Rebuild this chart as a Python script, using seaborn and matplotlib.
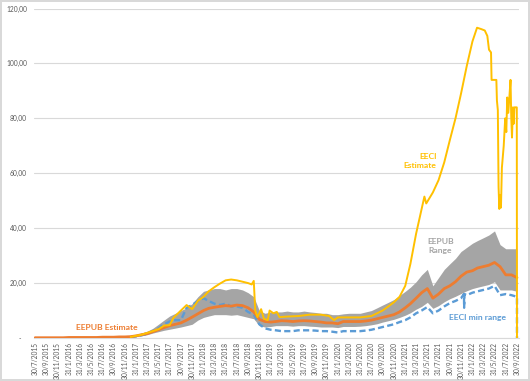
import numpy as np
import pandas as pd
import seaborn as sns
import matplotlib.pyplot as plt
import matplotlib.ticker as mticker

# monthly grid Jul 2015 .. Sep 2022
months = pd.date_range("2015-07-31", "2022-09-30", freq="ME")

# EEPUB estimate (orange), one value per month
eepub_est = [0.1, 0.1, 0.1, 0.1, 0.1, 0.1,
             0.2, 0.2, 0.2, 0.2, 0.2, 0.2,
             0.3, 0.3, 0.3, 0.4, 0.4, 0.5,
             0.8, 1.2, 1.6, 2.3, 3.0, 3.8, 4.5, 5.0, 5.5, 6.5, 7.6, 8.8,
             10.0, 10.8, 11.2, 11.5, 11.8, 11.6, 12.0, 11.8, 11.0, 9.5, 6.8, 6.0,
             5.8, 6.0, 6.3, 6.2, 6.0, 6.2, 6.3, 6.2, 6.0, 5.8, 5.5, 5.5,
             5.2, 6.0, 6.0, 6.0, 6.0, 6.2, 6.5, 7.0, 7.5, 8.0, 8.5, 9.5,
             11.0, 12.5, 14.5, 16.5, 18.0, 14.5, 16.0, 18.0, 19.0, 20.5, 22.5, 24.0,
             24.5, 25.5, 26.0, 26.5, 27.5, 26.0, 23.0, 23.0, 22.0]

# EEPUB range, from Dec 2016 on
range_high = [0.6,
              1.2, 1.8, 2.5, 3.5, 5.0, 6.5, 8.0, 9.0, 10.0, 11.0, 12.5, 15.0,
              17.0, 17.5, 18.0, 18.0, 17.5, 18.0, 18.0, 17.5, 16.5, 15.0, 10.0, 9.0,
              9.5, 9.5, 9.5, 9.8, 9.5, 9.5, 9.8, 9.5, 9.3, 9.0, 9.0, 8.5,
              8.5, 8.8, 9.0, 9.0, 9.0, 9.5, 10.0, 11.0, 12.0, 13.0, 14.0, 15.5,
              17.0, 18.5, 20.5, 23.0, 25.0, 19.0, 22.0, 25.0, 27.0, 29.0, 31.5, 33.0,
              34.5, 35.5, 36.5, 37.5, 39.0, 34.0, 32.5, 32.5, 32.5]
range_low = [0.3,
             0.5, 0.8, 1.2, 1.8, 2.3, 2.8, 3.2, 3.6, 4.0, 4.5, 5.0, 6.5,
             7.5, 8.0, 8.5, 8.5, 8.5, 8.3, 8.5, 8.0, 7.5, 7.0, 4.5, 4.0,
             4.2, 4.5, 4.5, 4.5, 4.3, 4.5, 4.5, 4.3, 4.2, 4.0, 4.0, 4.0,
             3.8, 4.2, 4.2, 4.2, 4.3, 4.5, 4.8, 5.2, 5.8, 6.3, 6.8, 7.5,
             8.3, 9.2, 10.5, 11.5, 13.0, 10.8, 11.8, 13.2, 14.3, 15.2, 16.2, 17.2,
             18.0, 18.5, 19.0, 19.5, 20.5, 17.5, 17.5, 17.5, 17.0]

# EECI min range (blue dashed), from Dec 2016 on
eeci_min = [0.3,
            0.6, 1.0, 1.5, 2.5, 3.5, 5.0, 6.0, 6.5, 6.5, 11.0, 12.0, 13.5,
            14.5, 13.5, 12.5, 12.0, 12.5, 11.5, 11.5, 11.0, 9.5, 8.5, 5.0, 3.5,
            3.0, 2.8, 2.5, 2.5, 2.5, 2.8, 2.8, 2.8, 2.7, 2.5, 2.5, 2.3,
            2.0, 2.5, 2.5, 2.5, 2.5, 2.7, 3.0, 3.5, 4.0, 4.5, 5.0, 5.8,
            6.5, 7.5, 9.0, 10.0, 11.3, 9.0, 10.0, 11.5, 12.7, 13.5, 14.5, 15.6,
            16.5, 17.0, 17.5, 18.0, 19.0, 15.6, 16.0, 15.6, 15.0]
eeci_min_extra_dates = ["2021-12-16", "2021-12-17", "2021-12-19", "2022-09-30"]
eeci_min_extra = [16.0, 11.0, 16.0, 0.0]

# EECI estimate (yellow)
eeci_dates = ["2016-12-31", "2017-02-28", "2017-04-30", "2017-05-31", "2017-06-30",
              "2017-07-31", "2017-08-20", "2017-09-30", "2017-10-31", "2017-11-30",
              "2017-12-31", "2018-01-31", "2018-02-28", "2018-03-31", "2018-04-30",
              "2018-05-31", "2018-06-30", "2018-07-31", "2018-08-31", "2018-09-30",
              "2018-10-20", "2018-10-31", "2018-11-08", "2018-11-20", "2018-12-10",
              "2018-12-25", "2019-01-15", "2019-01-25", "2019-02-15", "2019-03-05",
              "2019-03-20", "2019-04-30", "2019-06-30", "2019-08-31", "2019-10-31",
              "2019-12-15", "2020-01-10", "2020-01-31", "2020-03-31", "2020-05-31",
              "2020-07-31", "2020-08-31", "2020-09-30", "2020-10-31", "2020-11-30",
              "2020-12-31", "2021-01-31", "2021-02-28", "2021-03-31", "2021-04-30",
              "2021-05-15", "2021-05-25", "2021-06-30", "2021-07-31", "2021-08-31",
              "2021-09-30", "2021-10-31", "2021-11-30", "2021-12-31", "2022-01-31",
              "2022-02-25", "2022-03-20", "2022-04-08", "2022-04-22", "2022-05-01",
              "2022-05-12", "2022-05-15", "2022-06-10", "2022-06-13", "2022-06-18",
              "2022-06-22", "2022-06-26", "2022-07-01", "2022-07-05", "2022-07-10",
              "2022-07-20", "2022-07-28", "2022-08-03", "2022-08-08", "2022-08-14",
              "2022-08-20", "2022-08-26", "2022-08-30", "2022-09-03", "2022-09-08",
              "2022-09-12", "2022-09-16", "2022-09-29", "2022-09-30"]
eeci_est = [0.4, 1.2, 2.5, 3.2, 4.5,
            4.7, 7.3, 10.0, 12.0, 10.5,
            13.5, 15.0, 17.0, 18.5, 19.8,
            21.0, 21.3, 21.0, 20.5, 20.0,
            19.5, 20.8, 10.0, 7.6, 10.5,
            7.0, 6.5, 10.0, 9.0, 9.5,
            7.6, 7.8, 8.0, 8.5, 8.5,
            8.0, 6.5, 7.5, 7.5, 7.5,
            8.0, 9.0, 10.0, 11.5, 13.0,
            15.0, 19.0, 27.0, 38.0, 47.0,
            51.5, 49.0, 53.0, 57.5, 64.0,
            72.0, 80.0, 89.0, 99.0, 108.0,
            113.0, 112.5, 112.0, 110.0, 105.0,
            104.0, 94.0, 94.0, 86.5, 83.0,
            55.0, 47.0, 52.0, 47.5, 62.0,
            70.0, 80.0, 75.0, 87.6, 82.0,
            88.0, 94.0, 80.0, 73.0, 84.0,
            78.0, 84.0, 84.0, 0.0]

tick_dates = [pd.Timestamp("2015-07-30")] + list(pd.date_range("2015-09-30", "2022-09-30", freq="2ME"))
tick_labels = [f"{d.day}/{d.month}/{d.year}" for d in tick_dates]

sns.set_theme(style="white")
plt.rcParams["font.family"] = ["Lato", "DejaVu Sans"]

fig = plt.figure(figsize=(5.3, 3.81), dpi=100)
fig.patch.set_edgecolor("#D9D9D9")
fig.patch.set_linewidth(1.5)
ax = fig.add_axes([34 / 530, 43 / 381, 485 / 530, 329.5 / 381])

rng = months[17:]
ax.fill_between(rng, range_low, range_high, color="#A5A5A5", lw=0, zorder=1)

blue = pd.DataFrame({"date": list(rng) + list(pd.to_datetime(eeci_min_extra_dates)),
                     "val": eeci_min + eeci_min_extra})
blue = blue.sort_values("date", kind="stable")
sns.lineplot(data=blue, x="date", y="val", ax=ax, color="#5B9BD5", lw=1.7,
             estimator=None, sort=False, zorder=2, dashes=False)
ax.lines[-1].set_dashes((2.6, 1.4))

sns.lineplot(x=months, y=eepub_est, ax=ax, color="#ED7D31", lw=2.0,
             estimator=None, sort=False, zorder=3)
sns.lineplot(x=pd.to_datetime(eeci_dates), y=eeci_est, ax=ax, color="#FFC000", lw=1.4,
             estimator=None, sort=False, zorder=4)

# labels on the chart
ax.text(pd.Timestamp("2016-03-10"), 4.0, "EEPUB Estimate", color="#ED7D31",
        fontsize=6.1, fontweight="bold", va="center", ha="left")
ax.text(pd.Timestamp("2021-07-20"), 64.5, "EECI\nEstimate", color="#FFC000",
        fontsize=6.1, fontweight="bold", va="center", ha="right", linespacing=1.3)
ax.text(pd.Timestamp("2021-08-10"), 33.5, "EEPUB\nRange", color="#A5A5A5",
        fontsize=6.1, fontweight="bold", va="center", ha="center", linespacing=1.3)
ax.text(pd.Timestamp("2021-09-28"), 7.6, "EECI min range", color="#5B9BD5",
        fontsize=6.1, fontweight="bold", va="center", ha="left")

ax.set_xlim(pd.Timestamp("2015-07-25"), pd.Timestamp("2022-10-11"))
ax.set_ylim(0, 120)
ax.set_yticks(range(0, 121, 20))
ax.yaxis.set_major_formatter(mticker.FuncFormatter(
    lambda v, p: "-   " if v == 0 else f"{v:.2f}".replace(".", ",")))
ax.set_xticks(tick_dates)
ax.set_xticklabels(tick_labels, rotation=90, ha="center", va="top")
ax.tick_params(axis="both", length=0, labelsize=4.8, colors="#595959")
ax.tick_params(axis="y", pad=5)
ax.tick_params(axis="x", pad=3)
ax.set_xlabel("")
ax.set_ylabel("")

ax.grid(axis="y", color="#D9D9D9", lw=0.8)
ax.grid(axis="x", visible=False)
for s in ["top", "right", "left"]:
    ax.spines[s].set_visible(False)
ax.spines["bottom"].set_color("#D9D9D9")
ax.spines["bottom"].set_linewidth(0.8)

fig.savefig("out.png", dpi=100, edgecolor=fig.get_edgecolor())
